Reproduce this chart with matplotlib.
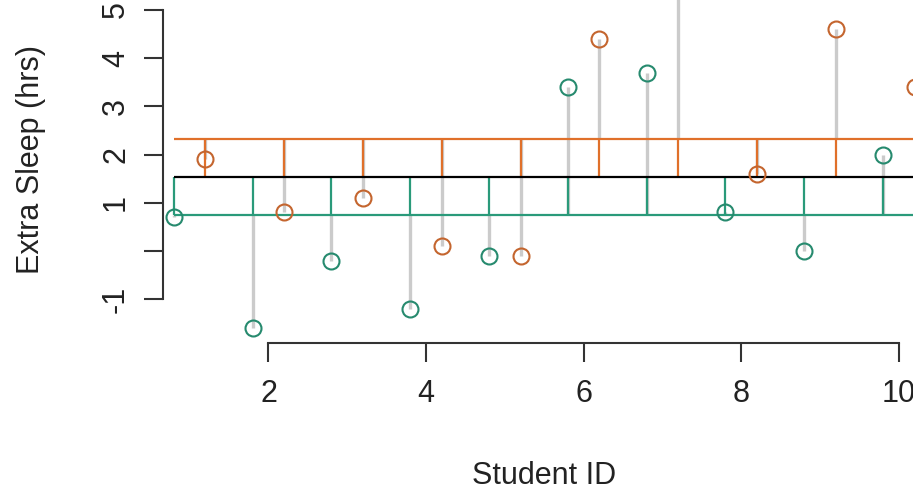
import numpy as np
import matplotlib
matplotlib.use("Agg")
import matplotlib.pyplot as plt

plt.rcParams["font.family"] = ["Liberation Sans", "DejaVu Sans"]

# ----------------------------
# Data (sleep data, two groups)
# ----------------------------
student_id = np.arange(1, 11)
group1 = [0.7, -1.6, -0.2, -1.2, -0.1, 3.4, 3.7, 0.8, 0.0, 2.0]
group2 = [1.9, 0.8, 1.1, 0.1, -0.1, 4.4, 5.5, 1.6, 4.6, 3.4]

xticks = [2, 4, 6, 8, 10]
yticks = [-1, 0, 1, 2, 3, 4, 5]
ytick_labels = ["-1", "", "1", "2", "3", "4", "5"]

# colours
col1 = "#2a9a7a"
col2 = "#e0702a"
col1_pt = "#268a6e"
col2_pt = "#c4652e"
grey = "#cbcbcb"

x1 = student_id - 0.2
x2 = student_id + 0.2
m1 = np.mean(group1)
m2 = np.mean(group2)
m_all = np.mean(group1 + group2)

fig = plt.figure(figsize=(9.13, 4.94), dpi=100)
ax = fig.add_axes([0, 0, 1, 1])
ax.set_xlim(-1.407, 10.18)
ax.set_ylim(-5.04, 5.207)

# residual segments (grey)
ax.vlines(x1, m1, group1, color=grey, lw=2.4, zorder=1)
ax.vlines(x2, m2, group2, color=grey, lw=2.4, zorder=1)

# group effect segments
ax.vlines(x1, m_all, m1, color=col1, lw=1.6, zorder=2)
ax.vlines(x2, m_all, m2, color=col2, lw=1.6, zorder=2)

# mean lines
xmin, xmax = x1.min(), x2.max()
ax.hlines(m_all, xmin, xmax, color="black", lw=1.6, zorder=3)
ax.hlines(m1, xmin, xmax, color=col1, lw=1.6, zorder=3)
ax.hlines(m2, xmin, xmax, color=col2, lw=1.6, zorder=3)

# points
ax.plot(x1, group1, "o", mfc="none", mec=col1_pt, ms=11.5, mew=1.5, zorder=4)
ax.plot(x2, group2, "o", mfc="none", mec=col2_pt, ms=11.5, mew=1.5, zorder=4)

# axes in base-R style
for s in ["top", "right"]:
    ax.spines[s].set_visible(False)
ax.spines["left"].set_position(("data", 0.661))
ax.spines["left"].set_bounds(-1, 5)
ax.spines["bottom"].set_position(("data", -1.907))
ax.spines["bottom"].set_bounds(2, 10)
for s in ["left", "bottom"]:
    ax.spines[s].set_linewidth(1.5)
    ax.spines[s].set_color("#333333")

ax.set_xticks(xticks)
ax.set_xticklabels([str(v) for v in xticks])
ax.set_yticks(yticks)
ax.set_yticklabels(ytick_labels, rotation=90, va="center")
ax.tick_params(axis="both", direction="out", length=14, width=1.5,
               color="#333333", labelsize=22, labelcolor="#222222")
ax.tick_params(axis="x", pad=12)
ax.tick_params(axis="y", pad=9)

fig.text(544 / 913, 1 - 476 / 494, "Student ID", ha="center", va="center",
         fontsize=22, color="#222222")
fig.text(31 / 913, 1 - 160 / 494, "Extra Sleep (hrs)", ha="center", va="center",
         rotation=90, fontsize=22, color="#222222")

fig.savefig("out.png", dpi=100)
